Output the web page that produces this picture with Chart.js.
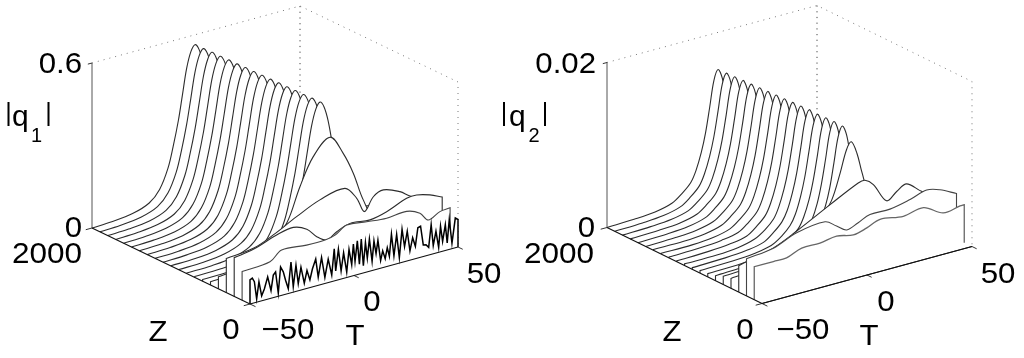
<!DOCTYPE html>
<html><head><meta charset="utf-8">
<script src="https://cdn.jsdelivr.net/npm/chart.js@4"></script>
<style>
html,body{margin:0;padding:0;background:#fff;width:1024px;height:358px;overflow:hidden}
canvas{position:absolute;top:0;filter:blur(.4px)}
#a{left:0}#b{left:490px}
</style></head><body>
<canvas id="a" width="512" height="358"></canvas>
<canvas id="b" width="534" height="358"></canvas>
<script>
// ---------- DATA ----------
const zSlices = [0,100,200,300,400,500,600,700,800,900,1000,1100,1200,1300,1400,1500,1600,1700,1800,1900,2000];

// front noisy slice of |q1| at Z=0
const q1Z0T = [-50,-48.9,-47.9,-46.8,-45.7,-44.4,-43.1,-41.5,-39.9,-38.8,-37.7,-36.4,-35.3,-34,-32.9,-31.6,-30.3,-29.2,-27.9,-26.8,-25.5,-23.9,-22.6,-21.2,-20,-18.4,-17.2,-15.6,-14,-12.4,-10.7,-9.5,-8.8,-7.5,-6.2,-5,-3.5,-2.4,-1.1,-.3,.5,1.6,2.6,3.5,4.5,5.5,6.4,7.4,8.7,9.6,10.6,11.5,12.8,13.8,15,16,17,18,19.2,20.5,21.8,23.1,24.3,25.6,26.9,28.2,29.5,30.7,32,33.3,34.6,35.9,37.1,38.1,39.4,40.7,41.6,42.6,43.9,44.8,45.8,47.1,48.7,50];
const q1Z0 = [.088,.092,.077,.012,.072,.018,.040,.081,.028,.082,.091,.012,.104,.084,.051,.018,.112,.020,.095,.026,.083,.022,.065,.028,.065,.098,.030,.098,.022,.085,.024,.117,.035,.111,.030,.093,.020,.100,.042,.115,.050,.123,.036,.125,.026,.109,.050,.117,.034,.106,.058,.104,.028,.061,.030,.068,.035,.113,.032,.107,.020,.120,.055,.108,.034,.079,.045,.110,.113,.042,.040,.028,.108,.030,.079,.018,.093,.036,.094,.026,.108,.020,.108,.100];
const q2Z0T = [-50,-25,0,25,50];
const q2Z0 = [0,0,0,0,0];

// early slices: T and |q1|
const q1Z100T = [-50,-36.6,-31,-19,-10.1,-5.3,.3,9.9,19.5,29.1,35.5,39.5,45.1,50];
const q1Z100  = [.104,.112,.143,.136,.136,.144,.169,.161,.154,.159,.139,.106,.125,.129];
const q1Z200T = [-50,-40.8,-29.6,-21.6,-15.1,-10.3,-5.5,-.7,5.7,15.3,23.3,32.9,37.7,44.1,50];
const q1Z200  = [.141,.152,.181,.192,.172,.135,.113,.133,.150,.143,.156,.185,.187,.174,.154];
const q1Z300T = [-50,-37,-27.4,-16.2,-5,7,12.7,16.4,20.7,25.5,33.5,38.3,50];
const q1Z300  = [.124,.134,.163,.206,.244,.261,.213,.157,.202,.217,.194,.168,.12];
const q1Z400T = [-50,-42,-34,-26,-17.2,-10.8,-4.4,3.7,10,14.9,19.7,25,50];
const q1Z400  = [.044,.05,.065,.10,.17,.29,.386,.44,.368,.285,.178,.11,.08];

const q2Z100T = [-50,-40.9,-34.6,-27.4,-18.7,-10.8,-2.8,3.6,9.9,21,30.6,40,48,50];
const q2Z100  = [.0040,.0040,.0040,.0047,.0047,.0050,.0046,.0050,.0056,.0052,.0056,.0043,.0046,.0046];
const q2Z200T = [-50,-37.2,-26.1,-12.6,-7.1,-2.3,3.2,8.8,18.3,27.9,35.8,42.1,50];
const q2Z200  = [.0045,.0049,.0060,.0064,.0055,.0047,.0052,.0058,.0058,.0063,.0069,.0065,.0055];
const q2Z300T = [-50,-33.6,-22.4,-6.5,6.9,10.1,14.1,20.4,25.2,29.9,37,50];
const q2Z300  = [.0032,.0042,.0055,.0076,.0093,.0094,.0086,.0062,.0070,.0076,.0062,.0040];
const q2Z400T = [-50,-35,-20,-12,-6.7,-2,2,5,7.3,10,12.4,16,20,35,50];
const q2Z400  = [.0012,.0016,.0028,.0042,.0057,.0074,.0104,.0130,.0138,.0122,.0097,.0065,.0050,.0030,.0020];

// soliton slices Z=500..2000: T of the crest, sample offsets from the crest, values
// (row: value at T=-50, values at the offsets, value at T=50)
const pulseOffsets = [-40,-30,-22,-17,-13,-10.5,-8,-6,-4,-2,0,2,4,6,8,11,15,22];
const q1Crest = [2.6,2.4,2.2,2,1.8,1.6,1.4,1.2,1,.8,.6,.4,.2,0,-.3,-.5];
const q1Rows = [
[.012,.015,.020,.038,.074,.140,.212,.300,.390,.478,.534,.556,.534,.478,.390,.300,.190,.100,.040,.01],
[.006,.008,.014,.035,.073,.140,.212,.300,.390,.479,.535,.557,.535,.479,.390,.300,.190,.100,.036,.01],
[.003,.005,.013,.034,.073,.140,.212,.301,.391,.479,.535,.557,.535,.479,.391,.301,.190,.100,.034,.0],
[.002,.004,.012,.034,.073,.140,.213,.301,.391,.480,.536,.558,.536,.480,.391,.301,.190,.100,.034,.0],
[.001,.003,.012,.034,.073,.140,.213,.301,.391,.480,.536,.558,.536,.480,.391,.301,.190,.100,.034,.0],
[.001,.003,.012,.034,.073,.140,.213,.301,.392,.481,.537,.559,.537,.481,.392,.301,.190,.100,.034,.0],
[.000,.003,.012,.034,.073,.140,.213,.302,.392,.481,.537,.559,.537,.481,.392,.302,.190,.100,.034,.0],
[.000,.003,.012,.034,.073,.140,.213,.302,.392,.482,.538,.560,.538,.482,.392,.302,.190,.100,.034,.0],
[.000,.003,.012,.034,.073,.140,.213,.302,.392,.482,.538,.560,.538,.482,.392,.302,.190,.100,.034,.0],
[.000,.003,.012,.034,.073,.140,.213,.302,.393,.483,.539,.561,.539,.483,.393,.302,.190,.100,.034,.0],
[.000,.003,.012,.034,.073,.140,.214,.303,.393,.483,.539,.561,.539,.483,.393,.303,.190,.100,.034,.0],
[.000,.003,.012,.034,.073,.140,.214,.303,.393,.484,.540,.562,.540,.484,.393,.303,.190,.100,.034,.0],
[.000,.003,.012,.034,.073,.141,.214,.303,.394,.484,.540,.562,.540,.484,.394,.303,.190,.100,.034,.0],
[.000,.003,.012,.034,.073,.141,.214,.304,.394,.485,.541,.563,.541,.485,.394,.304,.190,.100,.034,.0],
[.000,.003,.012,.034,.073,.141,.214,.304,.394,.485,.541,.563,.541,.485,.394,.304,.190,.100,.034,.0],
[.000,.003,.012,.034,.073,.141,.215,.304,.395,.486,.542,.564,.542,.486,.395,.304,.190,.100,.034,.0]
];
const q2Crest = [6.7,6.4,6.2,5.9,5.7,5.4,5.2,4.9,4.7,4.4,4.2,3.9,3.7,3.4,3.2,2.9];
const q2Rows = [
[.0010,.0012,.0016,.0021,.0028,.0037,.0046,.0062,.0082,.0111,.0141,.0153,.0141,.0111,.0082,.0060,.0036,.0020,.0008,.0],
[.0006,.0008,.0011,.0015,.0023,.0032,.0042,.0060,.0082,.0111,.0142,.0154,.0142,.0111,.0082,.0060,.0036,.0020,.0008,.0],
[.0004,.0005,.0008,.0012,.0020,.0029,.0041,.0060,.0082,.0111,.0142,.0154,.0142,.0111,.0082,.0060,.0036,.0020,.0008,.0],
[.0003,.0004,.0006,.0010,.0018,.0028,.0040,.0060,.0082,.0112,.0142,.0154,.0142,.0112,.0082,.0060,.0036,.0020,.0008,.0],
[.0002,.0003,.0005,.0009,.0018,.0028,.0040,.0060,.0082,.0112,.0143,.0155,.0143,.0112,.0082,.0060,.0036,.0020,.0008,.0],
[.0002,.0002,.0004,.0009,.0017,.0027,.0040,.0060,.0082,.0112,.0143,.0155,.0143,.0112,.0082,.0060,.0036,.0020,.0008,.0],
[.0001,.0002,.0004,.0008,.0017,.0027,.0040,.0060,.0082,.0112,.0143,.0155,.0143,.0112,.0082,.0060,.0036,.0020,.0008,.0],
[.0001,.0002,.0004,.0008,.0017,.0027,.0040,.0060,.0082,.0112,.0143,.0155,.0143,.0112,.0082,.0060,.0036,.0020,.0008,.0],
[.0001,.0001,.0003,.0008,.0017,.0027,.0040,.0060,.0082,.0112,.0143,.0155,.0143,.0112,.0082,.0060,.0036,.0020,.0008,.0],
[.0001,.0001,.0003,.0008,.0017,.0027,.0040,.0060,.0082,.0112,.0143,.0155,.0143,.0112,.0082,.0060,.0036,.0020,.0008,.0],
[.0,.0001,.0003,.0008,.0017,.0027,.0040,.0060,.0082,.0112,.0143,.0155,.0143,.0112,.0082,.0060,.0036,.0020,.0008,.0],
[.0,.0001,.0003,.0008,.0017,.0027,.0040,.0060,.0082,.0112,.0143,.0155,.0143,.0112,.0082,.0060,.0036,.0020,.0008,.0],
[.0,.0001,.0003,.0008,.0017,.0027,.0040,.0060,.0082,.0112,.0143,.0155,.0143,.0112,.0082,.0060,.0036,.0020,.0008,.0],
[.0,.0001,.0003,.0008,.0017,.0027,.0040,.0060,.0082,.0112,.0143,.0155,.0143,.0112,.0082,.0060,.0036,.0020,.0008,.0],
[.0,.0001,.0003,.0008,.0017,.0027,.0040,.0060,.0082,.0112,.0143,.0155,.0143,.0112,.0082,.0060,.0036,.0020,.0008,.0],
[.0,.0001,.0003,.0008,.0017,.0027,.0040,.0060,.0082,.0112,.0143,.0155,.0143,.0112,.0082,.0060,.0036,.0020,.0008,.0]
];

// ---------- VIEW ----------
const FONT = '"Liberation Sans", Arial, sans-serif';
const ZMAX = 2000, TMIN = -50, TMAX = 50;
const LINE = '#2c2c2c';
const views = {
  q1:{origin:[250,304],zVec:[-158,-76],tVec:[208,-57],vPx:165,vMax:.6},
  q2:{origin:[250,303.5],zVec:[-155,-76],tVec:[210,-57],vPx:165,vMax:.02}
};
function projector(view){
  return (T,Z,v)=>{
    const t=(T-TMIN)/(TMAX-TMIN), z=Z/ZMAX, h=v/view.vMax;
    return {x:view.origin[0]+t*view.tVec[0]+z*view.zVec[0],
            y:view.origin[1]+t*view.tVec[1]+z*view.zVec[1]-h*view.vPx};
  };
}
function wall(P,Z,Ts,Vs,color,width,tension){
  const pts=[P(Ts[0],Z,0),P(Ts[0],Z,Vs[0])];
  Ts.forEach((T,i)=>pts.push(P(T,Z,Vs[i])));
  const n=Ts.length-1;
  pts.push(P(Ts[n],Z,Vs[n]),P(Ts[n],Z,0));
  return {data:pts,showLine:true,pointRadius:0,borderColor:color,borderWidth:width,
          backgroundColor:'#fff',fill:'shape',tension};
}
function path(pts,color,width,dash){
  return {data:pts,showLine:true,pointRadius:0,borderColor:color,borderWidth:width,
          borderDash:dash||[],fill:false,tension:0};
}
function pulseSeries(P,crests,rows,startK,out){
  rows.forEach((row,i)=>{
    const Ts=[TMIN],Vs=[row[0]];
    pulseOffsets.forEach((o,j)=>{
      const T=crests[i]+o;
      if(T>TMIN && T<TMAX){Ts.push(T);Vs.push(row[j+1]);}
    });
    Ts.push(TMAX);Vs.push(row[row.length-1]);
    out.push(wall(P,zSlices[startK+i],Ts,Vs,LINE,1.1,.35));
  });
}
function frame(P,vMax){
  const tick=(a,b)=>path([P(...a),P(...b)],'#333',1);
  return [
    path([P(TMIN,ZMAX,0),P(TMIN,0,0)],'#111',1.2),
    path([P(TMIN,0,0),P(TMAX,0,0)],'#111',1.2),
    tick([TMIN,0,0],[TMIN,-70,0]),
    tick([0,0,0],[0,-60,0]),
    tick([TMAX,0,0],[TMAX,-60,0]),
    tick([TMIN,0,0],[TMIN-3,0,0]),
    tick([TMIN,ZMAX,0],[TMIN-3,ZMAX,0]),
    tick([TMIN,ZMAX,vMax],[TMIN-2,ZMAX,vMax]),
    path([P(TMIN,ZMAX,0),P(TMIN,ZMAX,vMax)],'#555',1)
  ];
}
function backBox(P,vMax){
  const dot=[1,5];
  return [
    path([P(TMIN,ZMAX,vMax),P(TMAX,ZMAX,vMax),P(TMAX,0,vMax),P(TMAX,0,0)],'#777',1,dot),
    path([P(TMAX,ZMAX,vMax),P(TMAX,ZMAX,0)],'#444',1,[1.2,4.5])
  ];
}
const textPlugin = {
  id:'panelText',
  afterDraw(chart){
    const ctx=chart.ctx, items=chart.config.options.plugins.panelText.items, sx=chart.scales.x, sy=chart.scales.y;
    ctx.save();
    ctx.fillStyle='#000';
    ctx.textBaseline='alphabetic';
    items.forEach(it=>{
      ctx.font=(it.size||30)+'px '+FONT;
      ctx.textAlign=it.align||'center';
      ctx.save();
      ctx.translate(sx.getPixelForValue(it.x),sy.getPixelForValue(it.y));
      ctx.scale(it.sx||1.04,1);
      ctx.fillText(it.text,0,0);
      ctx.restore();
    });
    ctx.restore();
  }
};
function makeChart(id,xMin,xMax,datasets,items){
  return new Chart(document.getElementById(id),{
    type:'scatter',
    data:{datasets},
    plugins:[textPlugin],
    options:{
      responsive:false,animation:false,
      layout:{padding:0},
      scales:{x:{type:'linear',display:false,min:xMin,max:xMax},
              y:{type:'linear',display:false,min:0,max:358,reverse:true}},
      plugins:{legend:{display:false},tooltip:{enabled:false},title:{display:false},
               panelText:{items}}
    }
  });
}

// ---------- LEFT PANEL ----------
const P1=projector(views.q1);
const ds1=[...frame(P1,.6)];
ds1.push(wall(P1,zSlices[0],q1Z0T,q1Z0,'#000',1.5,0));
ds1.push(wall(P1,zSlices[1],q1Z100T,q1Z100,'#444',1.1,.35));
ds1.push(wall(P1,zSlices[2],q1Z200T,q1Z200,LINE,1.1,.35));
ds1.push(wall(P1,zSlices[3],q1Z300T,q1Z300,LINE,1.1,.35));
ds1.push(wall(P1,zSlices[4],q1Z400T,q1Z400,LINE,1.1,.35));
pulseSeries(P1,q1Crest,q1Rows,5,ds1);
ds1.push(...backBox(P1,.6));
makeChart('a',0,512,ds1,[
  {text:'0.6',x:82,y:72.5,align:'right'},
  {text:'0',x:82,y:236.5,align:'right'},
  {text:'2000',x:82,y:262.5,align:'right',sx:1.05},
  {text:'|',x:8.5,y:121,size:25,sx:1},
  {text:'q',x:12,y:126,align:'left',sx:1},
  {text:'1',x:36.5,y:142,size:20,sx:1},
  {text:'|',x:48.5,y:121,size:25,sx:1},
  {text:'Z',x:158,y:341},
  {text:'0',x:231,y:339},
  {text:'\u221250',x:288,y:339},
  {text:'T',x:355,y:345},
  {text:'0',x:372,y:311},
  {text:'50',x:484,y:283}
]);

// ---------- RIGHT PANEL ----------
const P2=projector(views.q2);
const ds2=[...frame(P2,.02)];
ds2.push(wall(P2,zSlices[0],q2Z0T,q2Z0,'#222',1,0));
ds2.push(wall(P2,zSlices[1],q2Z100T,q2Z100,'#666',1.3,.35));
ds2.push(wall(P2,zSlices[2],q2Z200T,q2Z200,'#444',1.1,.35));
ds2.push(wall(P2,zSlices[3],q2Z300T,q2Z300,LINE,1.1,.35));
ds2.push(wall(P2,zSlices[4],q2Z400T,q2Z400,LINE,1.1,.35));
pulseSeries(P2,q2Crest,q2Rows,5,ds2);
ds2.push(...backBox(P2,.02));
makeChart('b',-22,512,ds2,[
  {text:'0.02',x:84,y:72.5,align:'right'},
  {text:'0',x:83,y:236.5,align:'right'},
  {text:'2000',x:82,y:262.5,align:'right',sx:1.05},
  {text:'|',x:-8,y:121,size:25,sx:1},
  {text:'q',x:-3,y:126,align:'left',sx:1},
  {text:'2',x:22,y:142,size:20,sx:1},
  {text:'|',x:33,y:121,size:25,sx:1},
  {text:'Z',x:160,y:341},
  {text:'0',x:233,y:339},
  {text:'\u221250',x:291,y:339},
  {text:'T',x:357,y:345},
  {text:'0',x:374,y:311},
  {text:'50',x:486,y:283}
]);
</script>
</body></html>
